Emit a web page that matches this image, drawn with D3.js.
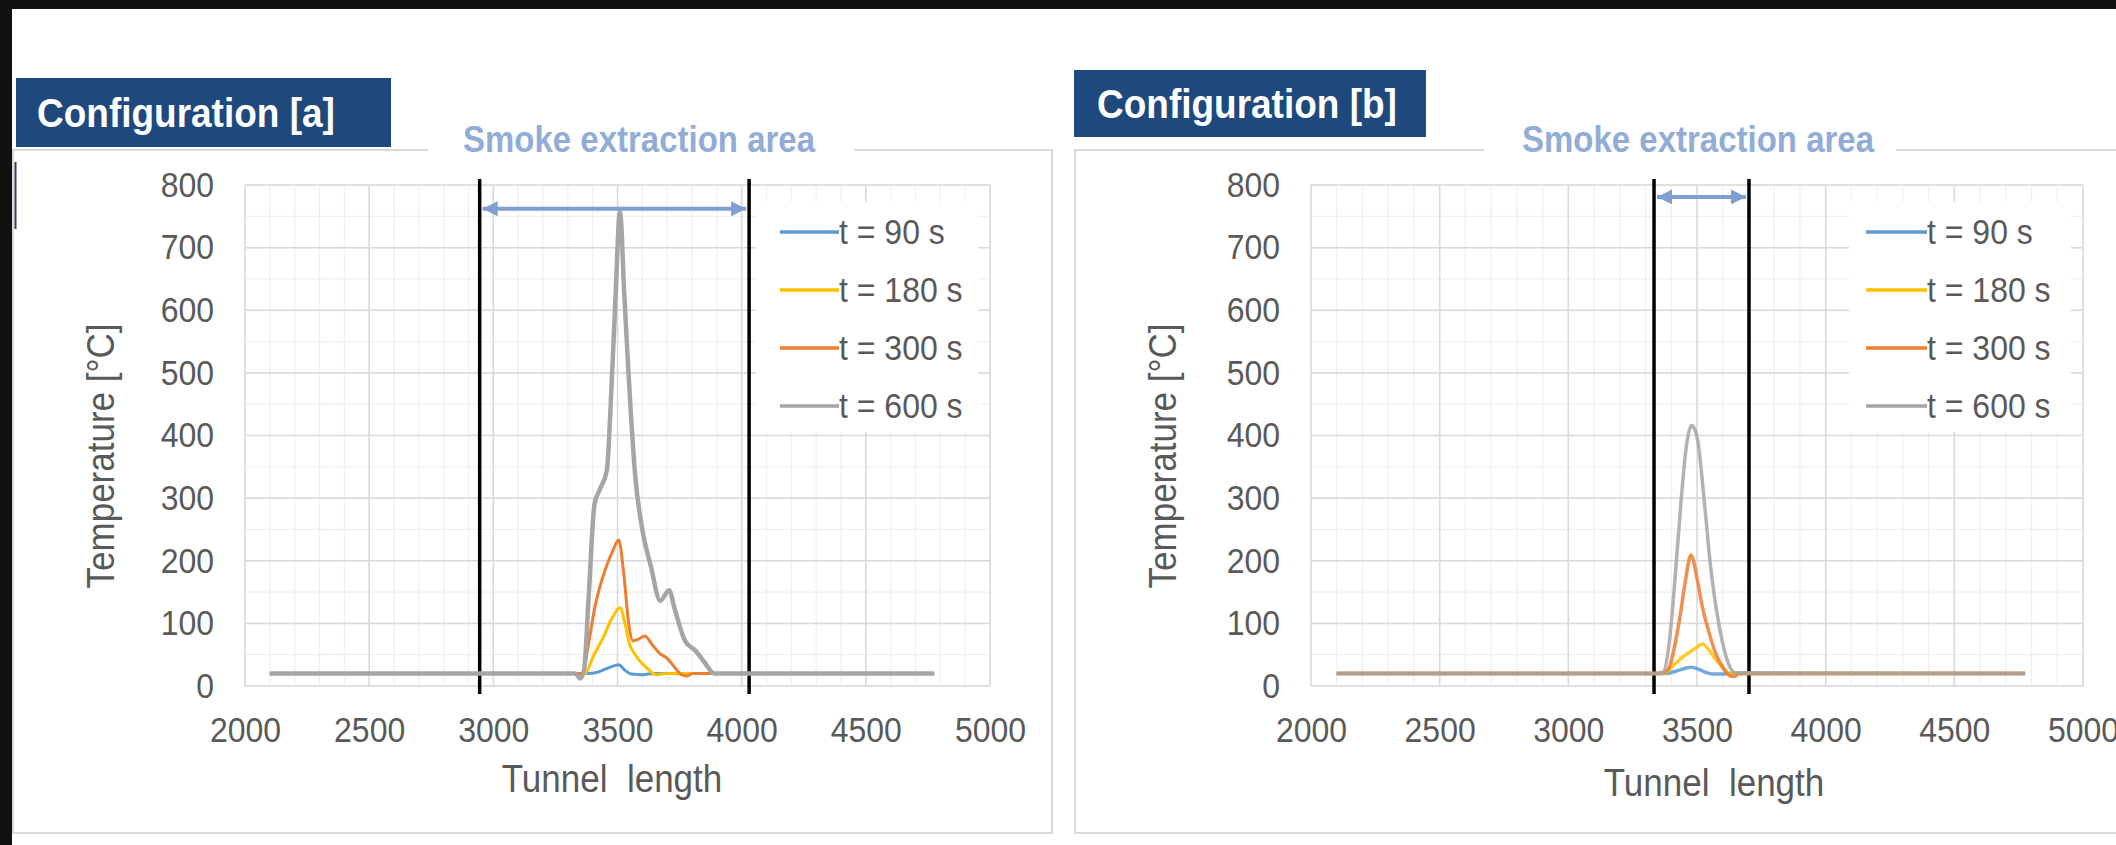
<!DOCTYPE html>
<html>
<head>
<meta charset="utf-8">
<script src="https://cdn.jsdelivr.net/npm/d3@7"></script>
<style>
  body { margin: 0; background: #111; }
  svg { display: block; }
</style>
</head>
<body>
<svg id="chart"></svg>
<script>
// ---- data ----
var panelTitles = ["Configuration [a]", "Configuration [b]"];
var zoneLabel = "Smoke extraction area";
var seriesNames = ["t = 90 s", "t = 180 s", "t = 300 s", "t = 600 s"];
var xTicks = [2000, 2500, 3000, 3500, 4000, 4500, 5000];
var yTicks = [0, 100, 200, 300, 400, 500, 600, 700, 800];
var xTitle = "Tunnel  length";
var yTitle = "Temperature [°C]";

// configuration [a]
var a90  = [[2100,20],[3380,20],[3420,22],[3470,30],[3505,34],[3530,25],[3557,19],[3600,18],[3650,20],[4775,20]];
var a180 = [[2100,20],[3370,20],[3400,45],[3443,78],[3480,110],[3510,125],[3530,100],[3550,65],[3571,50],[3614,30],[3657,18],[3700,20],[4775,20]];
var a300 = [[2100,20],[3360,20],[3380,60],[3411,130],[3450,185],[3480,215],[3505,233],[3525,180],[3545,100],[3563,72],[3585,75],[3610,80],[3640,66],[3670,52],[3700,44],[3730,30],[3758,18],[3780,16],[3800,20],[4775,20]];
var a600 = [[2100,20],[3330,20],[3350,12],[3365,25],[3385,150],[3407,289],[3430,315],[3457,344],[3475,470],[3491,612],[3510,757],[3528,620],[3545,495],[3572,333],[3600,250],[3635,190],[3672,136],[3708,153],[3729,125],[3772,72],[3815,56],[3850,38],[3890,20],[4775,20]];
var zoneA = [2945, 4030];
var arrowYA = 762;

// configuration [b]
var b90  = [[2100,20],[3380,20],[3420,24],[3479,30],[3510,26],[3540,21],[3570,19],[3605,19],[3625,20],[4775,20]];
var b180 = [[2100,20],[3370,20],[3400,30],[3450,48],[3500,62],[3521,67],[3545,58],[3570,44],[3600,30],[3625,20],[4775,20]];
var b300 = [[2100,20],[3360,20],[3385,25],[3430,101],[3455,168],[3470,203],[3477,209],[3485,202],[3500,172],[3520,128],[3545,88],[3570,55],[3600,30],[3630,16],[3645,15],[3665,20],[4775,20]];
var b600 = [[2100,20],[3340,20],[3368,22],[3395,80],[3412,158],[3439,300],[3456,374],[3468,405],[3479,416],[3491,410],[3503,392],[3526,305],[3553,190],[3588,92],[3623,35],[3650,21],[4775,20]];
var zoneB = [3333, 3702];
var arrowYB = 781;

var colors = ["#5b9bd5", "#ffc000", "#ed7d31", "#a5a5a5"];

// ---- layout ----
var W = 2116, H = 845;
var font = "'Liberation Sans', Arial, sans-serif";
var stretch = 1.1;   // the picture's text is a bit taller than wide
var plotTop = 185, plotBottom = 686;

var panels = [
  { title: panelTitles[0], series: [a90, a180, a300, a600], zone: zoneA, arrowY: arrowYA,
    box: [16, 78, 375, 69], titleX: 37, titleY: 127,
    frame: [13, 150, 1052, 833], smokeX: 639, gap: [428, 854],
    left: 245, right: 990, yTitleX: 101, xTitleX: 612, xTitleY: 779,
    legend: [756, 202, 222, 230], lineX: [780, 839], opacity: 1, widths: [3, 3, 3, 4.5] },
  { title: panelTitles[1], series: [b90, b180, b300, b600], zone: zoneB, arrowY: arrowYB,
    box: [1074, 70, 352, 67], titleX: 1097, titleY: 118,
    frame: [1075, 150, 2125, 833], smokeX: 1698, gap: [1484, 1896],
    left: 1311, right: 2083, yTitleX: 1163, xTitleX: 1714, xTitleY: 783,
    legend: [1849, 202, 222, 230], lineX: [1866, 1927], opacity: 0.85, widths: [3.5, 3.5, 3.5, 3.5] }
];

var svg = d3.select("#chart").attr("width", W).attr("height", H);

// black border of the screenshot, white page
svg.append("rect").attr("width", W).attr("height", H).attr("fill", "#111");
svg.append("rect").attr("x", 12).attr("y", 9).attr("width", W - 12).attr("height", H - 9).attr("fill", "#fff");

var defs = svg.append("defs");
defs.append("marker")
    .attr("id", "head")
    .attr("viewBox", "0 0 10 10")
    .attr("refX", 10).attr("refY", 5)
    .attr("markerWidth", 16).attr("markerHeight", 15)
    .attr("markerUnits", "userSpaceOnUse")
    .attr("orient", "auto-start-reverse")
  .append("path")
    .attr("d", "M0,0 L10,5 L0,10 z")
    .attr("fill", "#7f9fd2");

function addText(g, x, y, str, size, opts) {
  opts = opts || {};
  return g.append("text")
    .attr("transform", "translate(" + x + "," + y + ")" + (opts.rotate ? " rotate(-90)" : "") + " scale(1," + stretch + ")")
    .attr("text-anchor", opts.anchor || "start")
    .attr("dy", opts.dy || 0)
    .attr("font-family", font)
    .attr("font-size", size + "px")
    .attr("font-weight", opts.bold ? "bold" : "normal")
    .attr("fill", opts.fill || "#595959")
    .style("white-space", "pre")
    .text(str);
}

// little dark mark at the left edge
svg.append("line").attr("x1", 15.5).attr("x2", 15.5).attr("y1", 162).attr("y2", 229)
   .attr("stroke", "#2b3f5c").attr("stroke-width", 2);

panels.forEach(function(p) {
  var g = svg.append("g");

  // frame round the chart, with a gap for the zone label
  g.append("rect")
    .attr("x", p.frame[0]).attr("y", p.frame[1])
    .attr("width", p.frame[2] - p.frame[0]).attr("height", p.frame[3] - p.frame[1])
    .attr("fill", "none").attr("stroke", "#d9d9d9").attr("stroke-width", 2);
  g.append("rect").attr("x", p.gap[0]).attr("y", p.frame[1] - 6)
    .attr("width", p.gap[1] - p.gap[0]).attr("height", 12).attr("fill", "#fff");
  addText(g, p.smokeX, 152, zoneLabel, 33, { anchor: "middle", bold: true, fill: "#92acd8" });

  // dark blue title box
  g.append("rect")
    .attr("x", p.box[0]).attr("y", p.box[1]).attr("width", p.box[2]).attr("height", p.box[3])
    .attr("fill", "#1f497d");
  addText(g, p.titleX, p.titleY, p.title, 37, { bold: true, fill: "#fff" });

  var x = d3.scaleLinear().domain([xTicks[0], xTicks[xTicks.length - 1]]).range([p.left, p.right]);
  var y = d3.scaleLinear().domain([yTicks[0], yTicks[yTicks.length - 1]]).range([plotBottom, plotTop]);

  // gridlines: minor first, then major
  var grid = g.append("g");
  grid.selectAll(".vmin").data(d3.range(2000, 5001, 100)).enter().append("line")
    .attr("x1", x).attr("x2", x).attr("y1", plotTop).attr("y2", plotBottom)
    .attr("stroke", "#efefef").attr("stroke-width", 1.2);
  grid.selectAll(".hmin").data(d3.range(0, 801, 50)).enter().append("line")
    .attr("x1", p.left).attr("x2", p.right).attr("y1", y).attr("y2", y)
    .attr("stroke", "#efefef").attr("stroke-width", 1.2);
  grid.selectAll(".vmaj").data(xTicks).enter().append("line")
    .attr("x1", x).attr("x2", x).attr("y1", plotTop).attr("y2", plotBottom)
    .attr("stroke", "#d9d9d9").attr("stroke-width", 1.5);
  grid.selectAll(".hmaj").data(yTicks).enter().append("line")
    .attr("x1", p.left).attr("x2", p.right).attr("y1", y).attr("y2", y)
    .attr("stroke", "#d9d9d9").attr("stroke-width", 1.5);

  // axes
  var ya = g.append("g").attr("transform", "translate(" + p.left + ",0)")
    .call(d3.axisLeft(y).tickValues(yTicks).tickSize(0).tickPadding(31));
  var xa = g.append("g").attr("transform", "translate(0," + plotBottom + ")")
    .call(d3.axisBottom(x).tickValues(xTicks).tickSize(0).tickPadding(28).tickFormat(d3.format("d")));
  [ya, xa].forEach(function(ax) {
    ax.select(".domain").remove();
    ax.selectAll("text")
      .attr("transform", "scale(1," + stretch + ")")
      .attr("font-family", font).attr("font-size", "32px").attr("fill", "#595959");
  });

  addText(g, p.yTitleX, 456, yTitle, 35, { anchor: "middle", rotate: true, dy: "0.35em" });
  addText(g, p.xTitleX, p.xTitleY, xTitle, 35, { anchor: "middle", dy: "0.35em" });

  // legend
  var lg = g.append("g");
  lg.append("rect").attr("x", p.legend[0]).attr("y", p.legend[1])
    .attr("width", p.legend[2]).attr("height", p.legend[3]).attr("fill", "#fff");
  seriesNames.forEach(function(name, i) {
    var ly = 232 + i * 58;
    lg.append("line").attr("x1", p.lineX[0]).attr("x2", p.lineX[1]).attr("y1", ly).attr("y2", ly)
      .attr("stroke", colors[i]).attr("stroke-width", 3.5);
    addText(lg, p.lineX[1], ly, name, 32, { dy: "0.35em" });
  });

  // extraction zone boundaries
  g.selectAll(".zone").data(p.zone).enter().append("line")
    .attr("x1", x).attr("x2", x).attr("y1", plotTop - 6).attr("y2", plotBottom + 8)
    .attr("stroke", "#000").attr("stroke-width", 3.5);
  g.append("line")
    .attr("x1", x(p.zone[0]) + 3).attr("x2", x(p.zone[1]) - 3)
    .attr("y1", y(p.arrowY)).attr("y2", y(p.arrowY))
    .attr("stroke", "#7f9fd2").attr("stroke-width", 4)
    .attr("marker-start", "url(#head)").attr("marker-end", "url(#head)");

  // temperature curves
  var line = d3.line().x(function(d) { return x(d[0]); }).y(function(d) { return y(d[1]); })
    .curve(d3.curveMonotoneX);
  g.selectAll(".series").data(p.series).enter().append("path")
    .attr("d", line)
    .attr("fill", "none")
    .attr("stroke", function(d, i) { return colors[i]; })
    .attr("stroke-opacity", p.opacity)
    .attr("stroke-width", function(d, i) { return p.widths[i]; })
    .attr("stroke-linejoin", "round");
});
</script>
</body>
</html>
